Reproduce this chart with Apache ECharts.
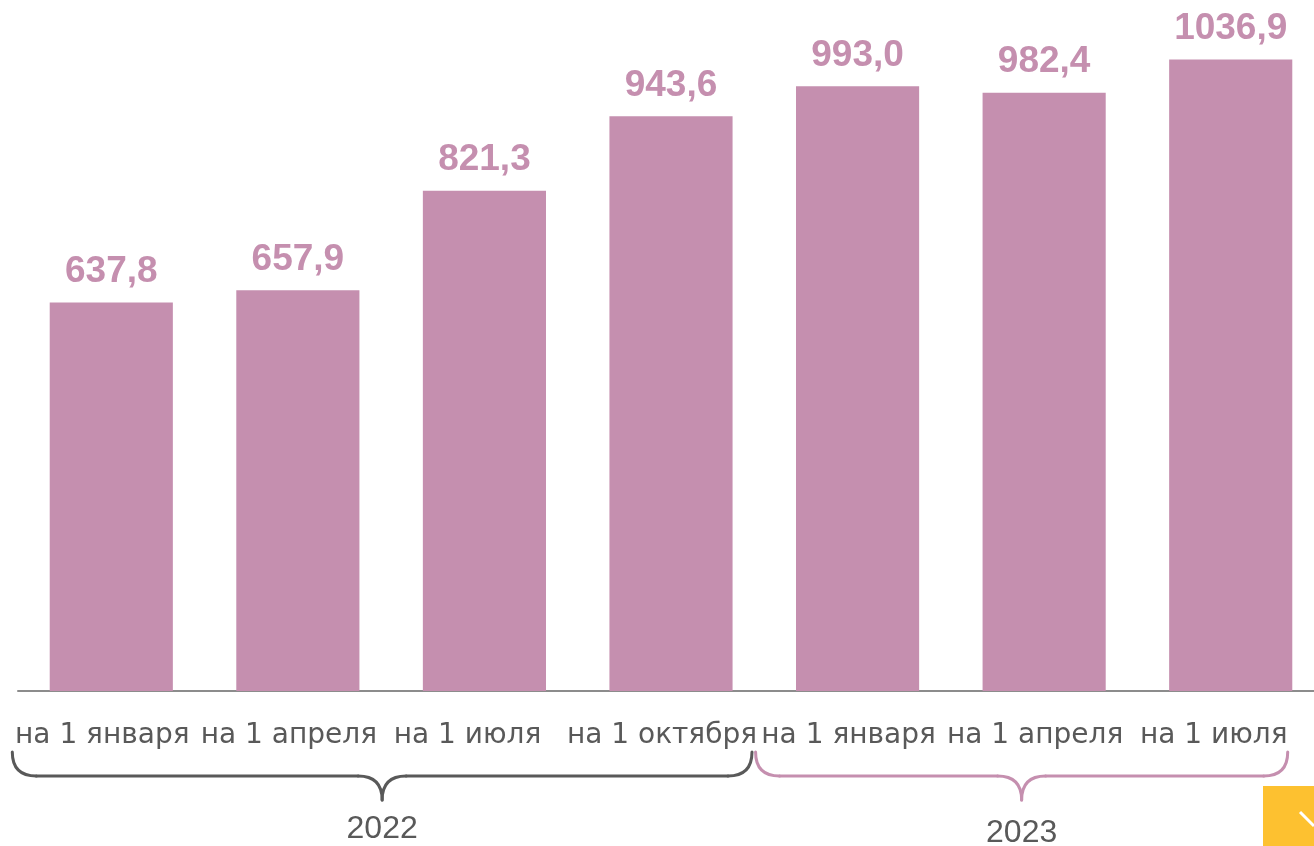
<!DOCTYPE html>
<html><head><meta charset="utf-8">
<script src="https://cdn.jsdelivr.net/npm/echarts@6/dist/echarts.min.js"></script>
<style>html,body{margin:0;padding:0;background:#fff}#c{width:1314px;height:846px}</style>
</head><body><div id="c"></div>
<script>
const categories = ['на 1 января','на 1 апреля','на 1 июля','на 1 октября','на 1 января','на 1 апреля','на 1 июля'];
const values = [637.8, 657.9, 821.3, 943.6, 993.0, 982.4, 1036.9];
const years = ['2022','2023'];
const yearGroups = [[0,3],[4,6]];

const PINK = '#c58faf';
const GREY = '#595959';
const chart = echarts.init(document.getElementById('c'));
chart.setOption({
  animation:false,
  grid:{left:18, top:21, width:1306, height:670, outerBoundsMode:'none', containLabel:false},
  xAxis:{type:'category',
    data:categories.map(c=>({value:c, textStyle:{padding:[0, c.indexOf('июля')>=0?34:18, 0, 0]}})),
    axisLine:{lineStyle:{color:'#8c8c8c', width:2}}, axisTick:{show:false},
    axisLabel:{color:GREY, fontSize:28, fontFamily:'DejaVu Sans, sans-serif', margin:31, interval:0}},
  yAxis:{type:'value', min:0, max:1100, show:false, splitLine:{show:false}},
  series:[{type:'bar', data:values, barWidth:'66%', itemStyle:{color:PINK},
    label:{show:true, position:'top', distance:12, color:PINK, fontSize:37, fontWeight:'bold',
      fontFamily:'Liberation Sans, Arial, sans-serif',
      formatter:p=>p.value.toFixed(1).replace('.',',')}}]
});

function brace(x0,x1,yTop,yH,yTip,color){
  const m=(x0+x1)/2, r=24;
  const st={stroke:color, lineWidth:3, fill:null, lineCap:'round'};
  return [
    {type:'bezierCurve', shape:{x1:x0,y1:yTop,x2:x0+r,y2:yH,cpx1:x0,cpy1:yH}, style:st},
    {type:'line', shape:{x1:x0+r,y1:yH,x2:m-r,y2:yH}, style:st},
    {type:'bezierCurve', shape:{x1:m-r,y1:yH,x2:m,y2:yTip,cpx1:m,cpy1:yH}, style:st},
    {type:'bezierCurve', shape:{x1:m,y1:yTip,x2:m+r,y2:yH,cpx1:m,cpy1:yH}, style:st},
    {type:'line', shape:{x1:m+r,y1:yH,x2:x1-r,y2:yH}, style:st},
    {type:'bezierCurve', shape:{x1:x1-r,y1:yH,x2:x1,y2:yTop,cpx1:x1,cpy1:yH}, style:st}
  ];
}
const cx = i => chart.convertToPixel({xAxisIndex:0}, i);
let g = [];
const colors=[GREY,PINK];
const offs=[[-99,81],[-102,57]];
const ty=[829,833];
yearGroups.forEach((gr,k)=>{
  const x0 = cx(gr[0]) + offs[k][0], x1 = cx(gr[1]) + offs[k][1];
  g = g.concat(brace(x0,x1,752,776,800,colors[k]));
  g.push({type:'text', style:{text:years[k], x:(x0+x1)/2, y:ty[k], align:'center', verticalAlign:'middle',
    fill:GREY, fontSize:32, fontFamily:'Liberation Sans, Arial, sans-serif'}});
});
g.push({type:'rect', shape:{x:1263,y:786,width:51,height:60}, style:{fill:'#fdc130'}});
g.push({type:'line', shape:{x1:1300,y1:812,x2:1314,y2:826}, style:{stroke:'#fff', lineWidth:3}});
chart.setOption({graphic:g});
</script></body></html>
